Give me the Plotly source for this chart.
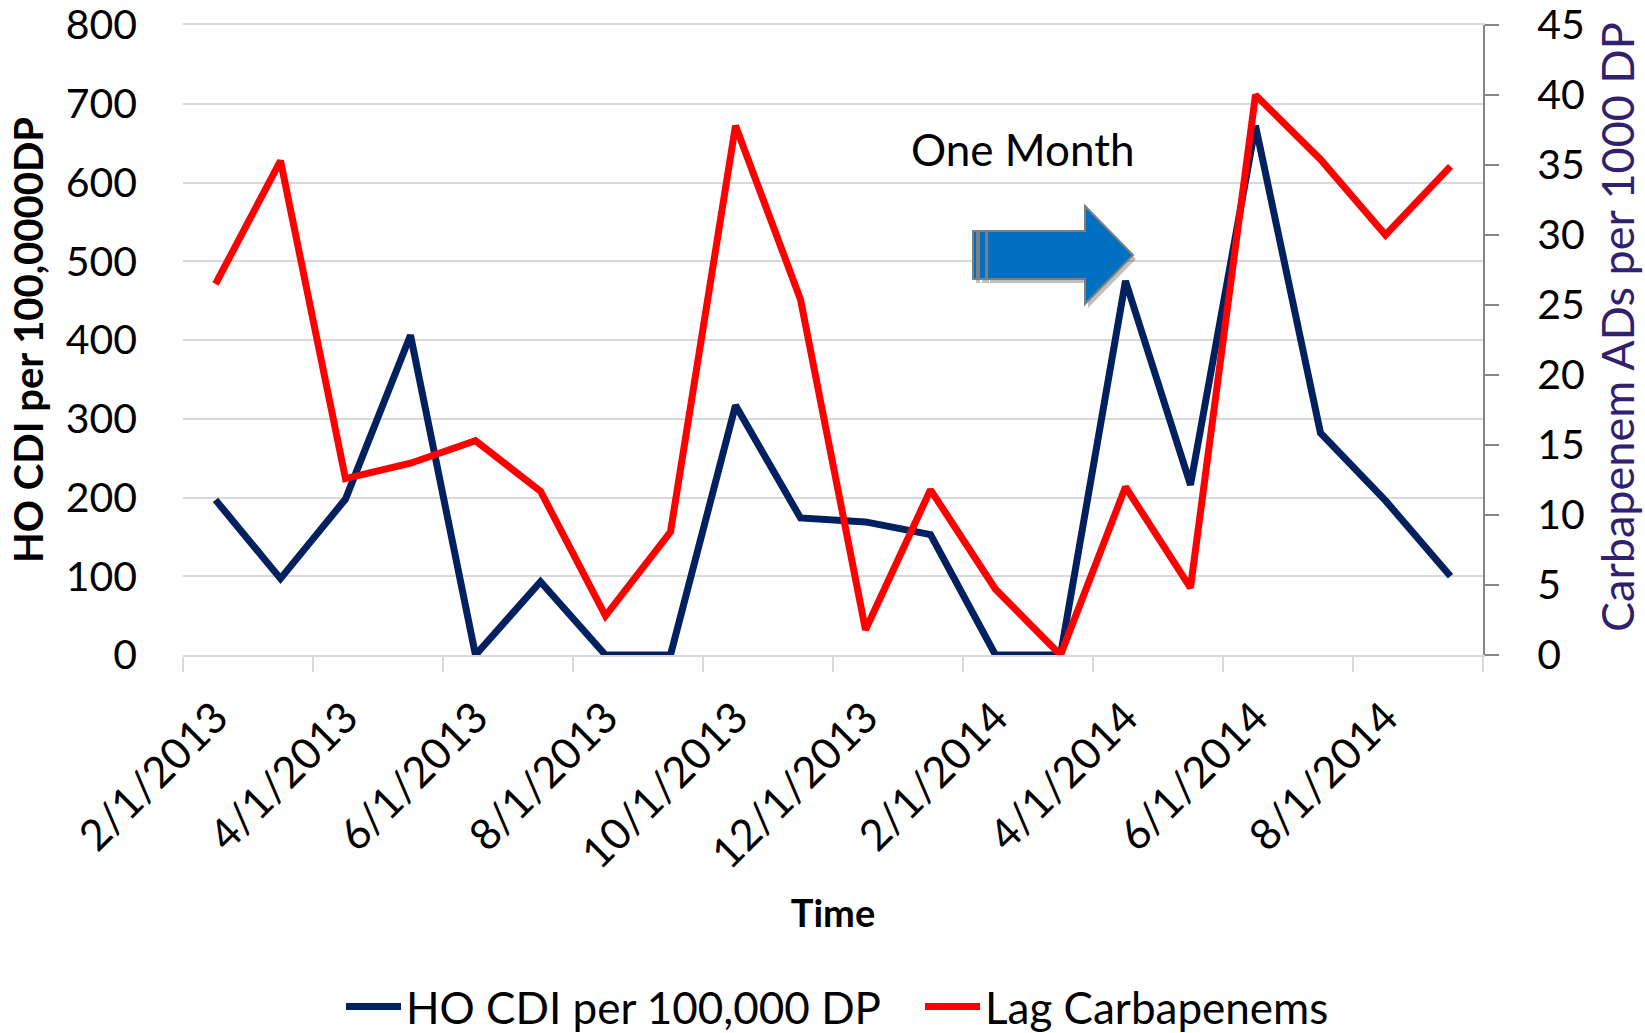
import plotly.graph_objects as go

# ---------------- data ----------------
months = ["2/1/2013", "3/1/2013", "4/1/2013", "5/1/2013", "6/1/2013", "7/1/2013",
          "8/1/2013", "9/1/2013", "10/1/2013", "11/1/2013", "12/1/2013", "1/1/2014",
          "2/1/2014", "3/1/2014", "4/1/2014", "5/1/2014", "6/1/2014", "7/1/2014",
          "8/1/2014", "9/1/2014"]
ho_cdi = [197, 97, 198, 406, 0, 93, 0, 0, 317, 174, 169, 153, 0, 0, 475, 216, 672, 282, 196, 100]
lag_carbapenems = [26.5, 35.3, 12.6, 13.7, 15.3, 11.7, 2.8, 8.8, 37.8, 25.4, 1.8, 11.8,
                   4.7, 0.0, 12.0, 4.8, 40.0, 35.4, 30.0, 34.9]
left_ticks = [0, 100, 200, 300, 400, 500, 600, 700, 800]
right_ticks = [0, 5, 10, 15, 20, 25, 30, 35, 40, 45]

# ---------------- layout geometry ----------------
W, H = 1645, 1033
ML, MR, MT, MB = 183, 162, 25, 378
PW, PH = W - ML - MR, H - MT - MB


def px(x):
    return (x - ML) / PW


def py(y):
    return (MT + PH - y) / PH


idx = list(range(len(months)))
label_idx = idx[::2]
boundaries = [i - 0.5 for i in idx[::2]] + [idx[-1] + 0.5]

NAVY = "#002060"
RED = "#FF0000"
GRID = "#D9D9D9"

fig = go.Figure()
fig.add_trace(go.Scatter(x=idx, y=ho_cdi, mode="lines", name="HO CDI per 100,000 DP",
                         line=dict(color=NAVY, width=7), cliponaxis=False, yaxis="y"))
fig.add_trace(go.Scatter(x=idx, y=lag_carbapenems, mode="lines", name="Lag Carbapenems",
                         line=dict(color=RED, width=7), cliponaxis=False, yaxis="y2"))

# ---------------- arrow shape ----------------
def path(points):
    return "M " + " L ".join(f"{px(x):.5f},{py(y):.5f}" for x, y in points) + " Z"

arrow_pts = [(987, 231), (1085, 231), (1085, 206), (1133, 255), (1085, 304), (1085, 279), (987, 279)]
stripe1 = [(973, 231), (977, 231), (977, 279), (973, 279)]
stripe2 = [(979, 231), (986, 231), (986, 279), (979, 279)]
shapes = []
for pts in (arrow_pts, stripe1, stripe2):
    shapes.append(dict(type="path", xref="paper", yref="paper",
                       path=path([(x + 3, y + 4) for x, y in pts]),
                       fillcolor="rgba(0,0,0,0.25)", line=dict(width=0), layer="above"))
for pts in (stripe1, stripe2, arrow_pts):
    shapes.append(dict(type="path", xref="paper", yref="paper", path=path(pts),
                       fillcolor="#0070C0", line=dict(color="#7F7F7F", width=2), layer="above"))

fig.update_layout(
    width=W, height=H,
    margin=dict(l=ML, r=MR, t=MT, b=MB, autoexpand=False),
    plot_bgcolor="white", paper_bgcolor="white",
    font=dict(family="Lato", color="black"),
    xaxis=dict(
        range=[-0.5, len(months) - 0.5], tickmode="array", tickvals=label_idx,
        ticktext=[months[i] for i in label_idx], tickangle=-45, ticks="",
        tickfont=dict(size=43), ticklabelstandoff=18, ticklabeloverflow="allow",
        showgrid=False, zeroline=False, showline=True, linecolor=GRID, linewidth=2,
        mirror=True,
        minor=dict(tickmode="array", tickvals=boundaries, ticks="outside", ticklen=15,
                   tickwidth=2, tickcolor=GRID, showgrid=False),
        title=dict(text="<b>Time</b>", font=dict(size=38), standoff=24),
    ),
    yaxis=dict(
        range=[0, 800], tickmode="array", tickvals=left_ticks, ticks="",
        tickfont=dict(size=41), ticklabelstandoff=45, ticklabeloverflow="allow",
        showgrid=True, gridcolor=GRID, gridwidth=2, zeroline=False, showline=False,
        title=dict(text="<b>HO CDI per 100,0000DP</b>", font=dict(size=40), standoff=9),
    ),
    yaxis2=dict(
        overlaying="y", side="right", range=[0, 45], tickmode="array", tickvals=right_ticks,
        ticks="outside", ticklen=14, tickwidth=2, tickcolor="#868686",
        tickfont=dict(size=41), ticklabelstandoff=30, ticklabeloverflow="allow",
        showgrid=False, zeroline=False, showline=True, linecolor="#868686", linewidth=2,
    ),
    showlegend=True,
    legend=dict(orientation="h", x=px(341), xanchor="left", y=py(1007), yanchor="middle",
                font=dict(size=44), itemwidth=55, entrywidth=509, entrywidthmode="pixels",
                bgcolor="rgba(0,0,0,0)"),
    shapes=shapes,
    annotations=[
        dict(text="One Month", x=px(1023), y=py(149), xref="paper", yref="paper",
             xanchor="center", yanchor="middle", showarrow=False,
             font=dict(size=44, color="black")),
        dict(text="Carbapenem ADs per 1000 DP", x=px(1617), y=py(327), xref="paper",
             yref="paper", xanchor="center", yanchor="middle", showarrow=False,
             textangle=-90, font=dict(size=45, color="#30206E")),
    ],
)

fig.write_html("out.html")
